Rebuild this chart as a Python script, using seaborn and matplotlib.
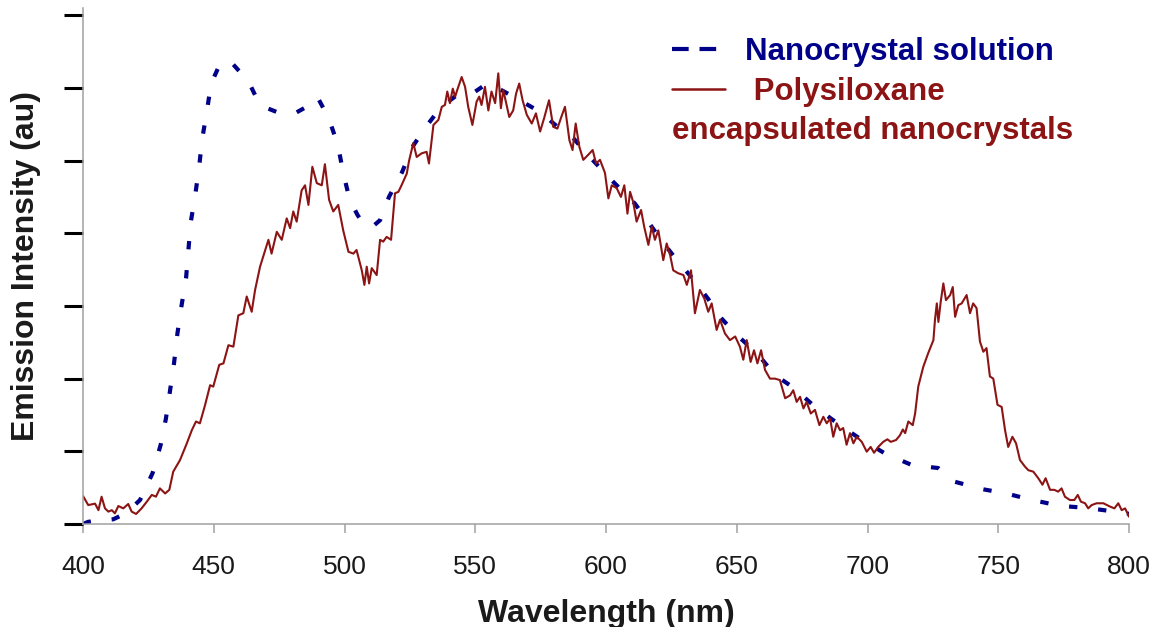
import matplotlib
matplotlib.use("Agg")
import matplotlib.pyplot as plt
from matplotlib.lines import Line2D
import seaborn as sns

# Nanocrystal solution (blue dashed)
sol_nm = [400.0, 402.0, 411.6, 416.5, 421.8, 426.6, 429.7, 431.7, 433.3, 434.8,
          436.1, 437.7, 439.4, 440.3, 441.2, 443.0, 444.4, 445.5, 447.4, 449.0,
          452.0, 455.0, 457.5, 460.0, 463.0, 467.7, 474.0, 481.0, 486.0, 488.0,
          490.0, 494.0, 497.5, 499.5, 502.0, 505.0, 508.0, 511.0, 513.6, 517.0,
          522.0, 526.0, 530.8, 537.0, 543.0, 550.0, 554.5, 560.0, 567.0, 574.8,
          581.6, 587.0, 593.0, 602.7, 611.0, 615.7, 621.0, 626.0, 633.0, 639.0,
          643.6, 650.0, 657.7, 664.6, 671.5, 680.0, 686.8, 696.0, 706.7, 717.0,
          727.0, 733.5, 743.8, 753.0, 763.0, 773.6, 784.0, 794.6, 800.0]
sol_int = [0.00, 0.03, 0.065, 0.15, 0.33, 0.70, 1.09, 1.45, 1.84, 2.21,
           2.62, 3.01, 3.38, 3.77, 4.15, 4.55, 4.91, 5.28, 5.69, 6.06,
           6.30, 6.38, 6.32, 6.22, 6.11, 5.76, 5.67, 5.65, 5.75, 5.86,
           5.85, 5.58, 5.21, 4.83, 4.46, 4.25, 4.09, 4.10, 4.18, 4.50,
           4.84, 5.19, 5.45, 5.74, 5.90, 5.95, 6.06, 5.97, 5.83, 5.67,
           5.46, 5.33, 5.08, 4.71, 4.41, 4.18, 3.91, 3.68, 3.38, 3.10,
           2.85, 2.60, 2.35, 2.05, 1.88, 1.61, 1.43, 1.20, 0.97, 0.81,
           0.77, 0.58, 0.48, 0.42, 0.33, 0.25, 0.22, 0.17, 0.14]

# Polysiloxane encapsulated nanocrystals (red solid)
enc_nm = [400.0, 402.0, 404.6, 405.9, 407.1, 408.4, 409.7, 411.0, 412.2, 413.5,
          415.4, 417.3, 418.6, 420.3, 422.4, 424.4, 426.3, 427.9, 429.4, 431.4,
          433.0, 434.5, 437.1, 439.7, 441.6, 443.2, 444.7, 446.7, 448.6, 449.8,
          452.1, 453.7, 455.6, 457.5, 459.4, 461.3, 462.6, 464.5, 465.8, 467.7,
          470.9, 472.1, 474.1, 476.0, 477.9, 479.2, 480.4, 481.7, 483.6, 484.9,
          486.2, 487.7, 489.4, 491.3, 492.5, 494.1, 495.7, 497.6, 499.5, 501.5,
          503.4, 504.6, 506.6, 507.6, 508.5, 509.4, 510.4, 512.3, 513.6, 514.8,
          516.1, 517.8, 519.3, 520.6, 521.8, 523.8, 524.7, 526.3, 527.6, 529.5,
          531.4, 532.3, 534.0, 535.9, 537.2, 538.4, 539.3, 540.3, 541.4, 542.3,
          543.1, 544.8, 546.1, 547.3, 548.9, 550.5, 551.5, 552.4, 553.7, 555.0,
          556.2, 557.6, 558.8, 559.8, 560.7, 563.0, 564.5, 565.6, 566.8, 568.1,
          569.7, 571.6, 573.2, 574.8, 576.3, 578.2, 579.8, 581.4, 582.9, 584.3,
          586.0, 587.2, 588.4, 589.8, 591.3, 593.2, 594.9, 596.2, 597.7, 599.6,
          600.9, 602.2, 604.1, 605.7, 607.0, 608.2, 609.2, 610.4, 611.7, 613.4,
          614.6, 616.2, 617.5, 618.7, 620.0, 621.9, 623.2, 624.5, 625.7, 627.6,
          629.6, 630.9, 632.5, 634.0, 635.9, 637.6, 639.1, 640.4, 642.3, 643.6,
          645.5, 647.4, 649.4, 651.2, 652.5, 653.8, 655.3, 656.6, 657.9, 659.3,
          660.8, 662.7, 664.6, 666.5, 668.5, 670.4, 671.6, 672.9, 674.2, 675.5,
          676.7, 678.3, 679.9, 681.6, 683.1, 684.4, 685.7, 686.9, 688.2, 689.5,
          690.7, 692.0, 693.3, 694.6, 695.9, 697.8, 699.7, 701.2, 702.5, 704.1,
          706.0, 707.6, 708.9, 710.9, 712.4, 713.5, 714.4, 715.6, 717.3, 718.2,
          719.4, 721.3, 723.2, 725.2, 725.8, 726.5, 727.1, 728.0, 729.0, 730.0,
          731.6, 732.6, 733.5, 734.7, 736.0, 737.9, 739.2, 740.4, 741.7, 743.0,
          744.3, 745.5, 746.8, 748.1, 749.7, 751.3, 752.6, 753.8, 755.4, 756.8,
          758.3, 760.2, 761.5, 763.4, 765.3, 766.9, 768.1, 769.8, 771.4, 772.9,
          774.2, 775.5, 777.4, 779.1, 780.4, 781.6, 783.2, 784.4, 785.7, 787.6,
          790.2, 792.7, 794.4, 795.9, 797.2, 798.5, 800.0]
enc_int = [0.385, 0.26, 0.28, 0.19, 0.375, 0.215, 0.17, 0.19, 0.147, 0.247,
           0.215, 0.275, 0.17, 0.138, 0.215, 0.307, 0.40, 0.376, 0.49, 0.42,
           0.47, 0.72, 0.88, 1.11, 1.29, 1.41, 1.385, 1.64, 1.91, 1.89,
           2.19, 2.21, 2.46, 2.44, 2.87, 2.90, 3.13, 2.92, 3.22, 3.54,
           3.91, 3.72, 4.02, 3.91, 4.205, 4.07, 4.30, 4.16, 4.59, 4.66,
           4.39, 4.915, 4.69, 4.66, 4.95, 4.46, 4.30, 4.39, 4.04, 3.745,
           3.72, 3.77, 3.49, 3.29, 3.54, 3.31, 3.52, 3.425, 3.91, 3.885,
           3.95, 3.91, 4.55, 4.57, 4.66, 4.82, 5.00, 5.24, 5.05, 5.10,
           5.12, 4.96, 5.49, 5.56, 5.74, 5.765, 5.95, 5.79, 5.99, 5.88,
           5.97, 6.15, 6.015, 5.74, 5.49, 5.81, 5.88, 5.765, 6.015, 5.69,
           5.95, 5.79, 6.20, 5.72, 5.97, 5.60, 5.69, 5.92, 6.06, 5.83,
           5.63, 5.51, 5.65, 5.40, 5.58, 5.83, 5.465, 5.44, 5.60, 5.74,
           5.28, 5.145, 5.51, 5.19, 5.01, 5.08, 5.145, 4.96, 5.01, 4.83,
           4.48, 4.66, 4.62, 4.50, 4.66, 4.27, 4.57, 4.43, 4.16, 4.32,
           4.09, 3.84, 4.09, 3.91, 4.04, 3.63, 3.86, 3.70, 3.49, 3.45,
           3.425, 3.29, 3.49, 2.90, 3.22, 3.10, 2.92, 3.035, 2.67, 2.81,
           2.62, 2.53, 2.58, 2.44, 2.26, 2.53, 2.23, 2.39, 2.21, 2.39,
           2.12, 2.00, 2.00, 1.98, 1.73, 1.77, 1.84, 1.68, 1.75, 1.59,
           1.68, 1.52, 1.57, 1.36, 1.475, 1.385, 1.45, 1.20, 1.385, 1.29,
           1.32, 1.09, 1.25, 1.11, 1.20, 1.13, 0.995, 1.06, 0.98, 1.06,
           1.13, 1.165, 1.13, 1.155, 1.22, 1.30, 1.25, 1.41, 1.36, 1.52,
           1.89, 2.16, 2.35, 2.53, 2.81, 3.035, 2.78, 3.06, 3.31, 3.08,
           3.15, 3.26, 2.85, 3.01, 3.035, 3.15, 2.90, 3.035, 2.97, 2.51,
           2.37, 2.42, 2.03, 2.00, 1.64, 1.61, 1.29, 1.06, 1.20, 1.11,
           0.88, 0.79, 0.74, 0.72, 0.63, 0.54, 0.63, 0.47, 0.47, 0.445,
           0.49, 0.375, 0.33, 0.33, 0.40, 0.307, 0.285, 0.215, 0.26, 0.285,
           0.285, 0.24, 0.215, 0.285, 0.19, 0.215, 0.10]

x_ticks = [400, 450, 500, 550, 600, 650, 700, 750, 800]
y_ticks = [0, 1, 2, 3, 4, 5, 6, 7]

blue = "#000088"
red = "#8c1414"

sns.set_theme(style="white")
plt.rcParams["font.family"] = ["Liberation Sans", "DejaVu Sans"]

fig = plt.figure(figsize=(11.53, 6.27), dpi=100)
ax = fig.add_axes([0.0720, 0.1643, 0.9072, 0.8230])

sns.lineplot(x=sol_nm, y=sol_int, ax=ax, color=blue, linewidth=3,
             linestyle=(0, (2.0, 5.0)), estimator=None, sort=False)
sns.lineplot(x=enc_nm, y=enc_int, ax=ax, color=red, linewidth=1.5,
             estimator=None, sort=False)

ax.set_xlim(400, 800)
ax.set_ylim(0, 7.1)
ax.set_xticks(x_ticks)
ax.set_yticks(y_ticks)
ax.set_xticklabels([str(t) for t in x_ticks])

for s in ["top", "right"]:
    ax.spines[s].set_visible(False)
for s in ["left", "bottom"]:
    ax.spines[s].set_color("#a0a0a0")
    ax.spines[s].set_linewidth(1.1)

ax.tick_params(axis="y", direction="out", length=14, width=2.2, color="black",
               labelleft=False, left=True)
ax.tick_params(axis="x", direction="out", length=6.5, width=1.1, color="#a0a0a0",
               labelsize=19, labelcolor="#1a1a1a", pad=16, bottom=True)

ax.set_xlabel("Wavelength (nm)", fontsize=23, fontweight="bold", color="#1a1a1a", labelpad=14)
ax.set_ylabel("Emission Intensity (au)", fontsize=23, fontweight="bold", color="#1a1a1a", labelpad=16)

handles = [
    Line2D([], [], color=blue, linewidth=3, linestyle=(0, (4.0, 2.6))),
    Line2D([], [], color=red, linewidth=1.8),
]
leg = ax.legend(handles, ["Nanocrystal solution", " Polysiloxane"],
                loc="upper left", bbox_to_anchor=(672 / 1153, 1 - 37 / 627),
                bbox_transform=fig.transFigure, frameon=False,
                prop={"size": 22.5, "weight": "bold"}, handlelength=1.7,
                handletextpad=0.64, labelspacing=0.32, borderpad=0, borderaxespad=0)
for txt, c in zip(leg.get_texts(), [blue, red]):
    txt.set_color(c)

fig.text(672 / 1153, 1 - 131 / 627, "encapsulated nanocrystals", color=red,
         fontsize=22.5, fontweight="bold", ha="left", va="center")

fig.savefig("out.png", dpi=100)
